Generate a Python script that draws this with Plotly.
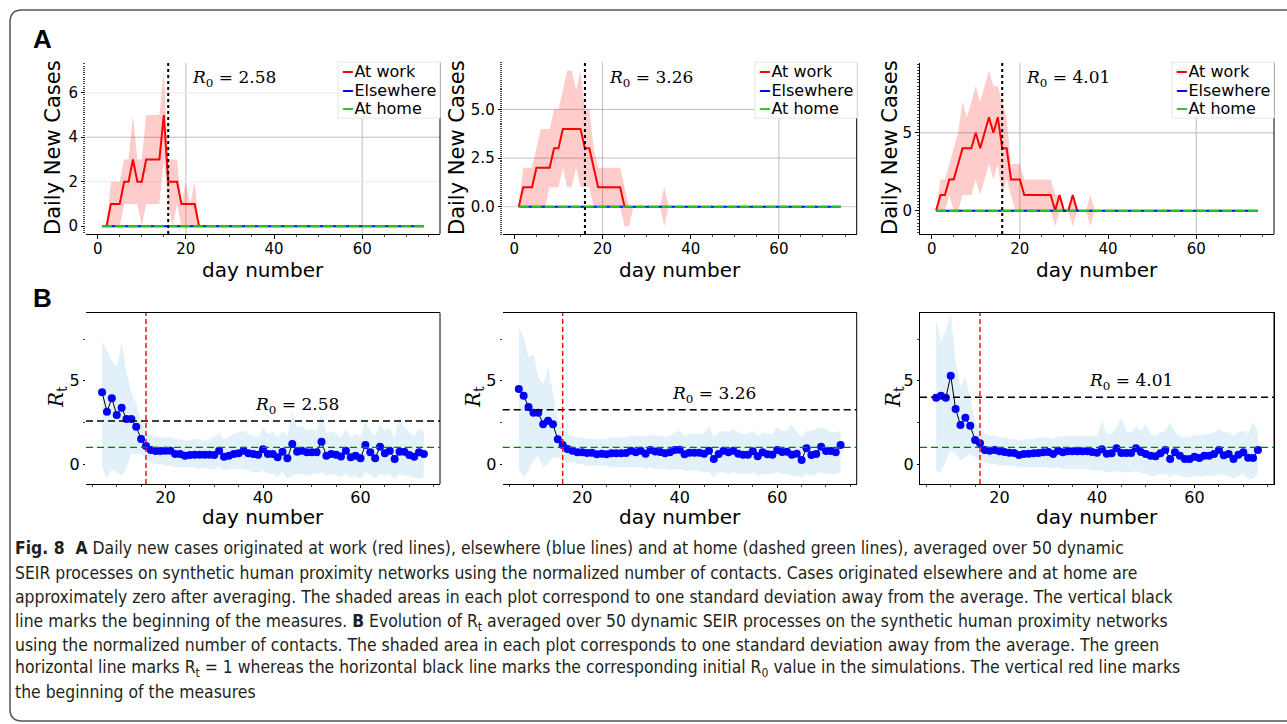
import plotly.graph_objects as go

W, H = 1287, 724

# ---------------- data ----------------
days_all = list(range(1, 75))
elsewhere = [0, 0, 0, 0, 0, 0, 0, 0, 0, 0, 0, 0, 0, 0, 0, 0, 0, 0, 0, 0, 0, 0, 0, 0, 0,
             0, 0, 0, 0, 0, 0, 0, 0, 0, 0, 0, 0, 0, 0, 0, 0, 0, 0, 0, 0, 0, 0, 0, 0, 0,
             0, 0, 0, 0, 0, 0, 0, 0, 0, 0, 0, 0, 0, 0, 0, 0, 0, 0, 0, 0, 0, 0, 0, 0]
at_home = [0, 0, 0, 0, 0, 0, 0, 0, 0, 0, 0, 0, 0, 0, 0, 0, 0, 0, 0, 0, 0, 0, 0, 0, 0,
           0, 0, 0, 0, 0, 0, 0, 0, 0, 0, 0, 0, 0, 0, 0, 0, 0, 0, 0, 0, 0, 0, 0, 0, 0,
           0, 0, 0, 0, 0, 0, 0, 0, 0, 0, 0, 0, 0, 0, 0, 0, 0, 0, 0, 0, 0, 0, 0, 0]

# Panel A1 (R0 = 2.58)
a1_days = list(range(2, 24))
a1_work = [0, 1, 1, 1, 2, 2, 3, 2, 2, 3, 3, 3, 3, 5, 2, 2, 2, 1, 1, 1, 1, 0]
a1_upper = [0, 2, 2, 2, 3, 3, 5, 3, 3, 5, 5, 5, 5, 7, 3, 3, 3, 1, 2, 1, 2, 0]
a1_lower = [0, 0, 0, 0, 1, 1, 1, 1, 0, 1, 1, 1, 1, 3, 1, 0, 1, 0, 0, 0, 0, 0]

# Panel A2 (R0 = 3.26)
a2_days = list(range(1, 26))
a2_work = [0, 1, 1, 1, 2, 2, 2, 2, 3, 3, 4, 4, 4, 4, 4, 3, 3, 2, 1, 1, 1, 1, 1, 1, 0]
a2_band_days = list(range(1, 36))
a2_upper = [0, 2, 2, 2, 3, 4, 4, 4, 5, 5, 6, 7, 7, 6, 7, 5, 5, 3, 2, 2,
            2, 2, 2, 2, 1, 0, 0, 0, 0, 0, 0, 0, 0, 1, 0]
a2_lower = [0, 0, 0, 0, 0, 0, 0, 1, 1, 1, 2, 1, 1, 2, 1, 1, 1, 0, 0, 0,
            0, 0, 0, 0, -1, -1, 0, 0, 0, 0, 0, 0, 0, -1, 0]

# Panel A3 (R0 = 4.01)
a3_days = list(range(1, 34))
a3_work = [0, 1, 1, 2, 2, 3, 4, 4, 4, 5, 4, 5, 6, 5, 6, 4, 4, 2, 2, 2,
           1, 1, 1, 1, 1, 1, 1, 0, 1, 0, 0, 1, 0]
a3_band_days = list(range(1, 38))
a3_upper = [0, 2, 2, 3, 4, 5, 7, 6, 7, 8, 7, 8, 9, 8, 8, 7, 6, 3, 3, 3,
            2, 2, 2, 2, 2, 2, 2, 1, 1, 0, 0, 1, 0, 0, 0, 1, 0]
a3_lower = [0, 0, 0, 1, 0, 0, 1, 1, 1, 2, 1, 2, 3, 2, 3, 1, 2, 1, 0, 0,
            0, 0, 0, 0, 0, 0, 0, -1, 0, 0, 0, -1, 0, 0, 0, -1, 0]

# Panel B (R_t), days 7..73
rt_days = list(range(7, 74))
b1_rt = [4.3, 3.14, 3.94, 2.94, 3.38, 2.7, 2.7, 2.24, 1.5, 1.08,
         0.84, 0.78, 0.78, 0.8, 0.8, 0.6, 0.6, 0.5, 0.54, 0.55,
         0.55, 0.55, 0.55, 0.54, 0.8, 0.44, 0.5, 0.6, 0.65, 0.8,
         0.65, 0.6, 0.55, 0.88, 0.6, 0.6, 0.4, 0.74, 0.34, 1.2,
         0.74, 0.8, 0.7, 0.7, 0.7, 1.34, 0.5, 0.6, 0.55, 0.45,
         0.8, 0.4, 0.5, 0.34, 1.14, 0.7, 0.34, 1.04, 0.64, 0.8,
         0.3, 0.74, 0.74, 0.54, 0.44, 0.7, 0.6]
b1_upper = [7.4, 6.8, 6.2, 5.8, 7.3, 5.5, 4.3, 3.6, 2.6, 2.0,
            1.7, 1.6, 1.6, 1.6, 1.6, 1.5, 1.5, 1.4, 1.4, 1.5,
            1.5, 1.4, 1.5, 1.6, 1.9, 1.5, 1.6, 1.8, 1.9, 2.0,
            1.8, 1.7, 1.6, 2.2, 1.8, 1.9, 1.6, 2.0, 1.7, 3.2,
            2.2, 2.3, 2.0, 2.1, 2.0, 3.0, 1.8, 2.0, 1.8, 1.6,
            2.1, 1.6, 1.8, 1.6, 2.6, 2.0, 1.7, 2.4, 2.0, 2.2,
            1.6, 2.9, 2.2, 1.9, 1.7, 2.1, 2.0]
b1_lower = [-0.2, -0.9, -0.3, -0.5, -0.7, -0.2, 0.6, 0.6, 0.6, 0.3,
            0.1, 0.0, 0.0, -0.1, -0.1, -0.2, -0.2, -0.2, -0.2, -0.2,
            -0.3, -0.2, -0.3, -0.3, -0.2, -0.4, -0.3, -0.3, -0.3, -0.3,
            -0.4, -0.5, -0.5, -0.4, -0.6, -0.6, -0.8, -0.5, -0.9, -0.7,
            -0.6, -0.6, -0.7, -0.6, -0.6, -0.5, -0.7, -0.6, -0.7, -0.8,
            -0.6, -0.8, -0.7, -0.9, -0.5, -0.7, -0.9, -0.6, -0.7, -0.6,
            -0.9, -0.6, -0.7, -0.7, -0.8, -0.9, -0.8]

b2_rt = [4.5, 4.1, 3.42, 3.08, 3.08, 2.38, 2.6, 2.38, 1.48, 1.14,
         0.9, 0.8, 0.7, 0.7, 0.66, 0.68, 0.58, 0.62, 0.58, 0.65,
         0.65, 0.65, 0.66, 0.8, 0.7, 0.8, 0.62, 0.84, 0.75, 0.72,
         0.64, 0.7, 0.84, 0.86, 0.58, 0.68, 0.68, 0.68, 0.62, 0.8,
         0.3, 0.6, 0.8, 0.7, 0.8, 0.62, 0.56, 0.56, 0.76, 0.46,
         0.7, 0.58, 0.56, 0.84, 0.72, 0.74, 0.56, 0.62, 0.24, 0.94,
         0.54, 0.6, 1.04, 0.78, 0.78, 0.7, 1.14]
b2_upper = [8.2, 7.6, 6.4, 6.6, 5.2, 4.8, 5.8, 4.2, 2.7, 2.2,
            1.8, 1.7, 1.6, 1.6, 1.5, 1.5, 1.5, 1.5, 1.5, 1.6,
            1.6, 1.6, 1.6, 1.7, 1.7, 1.7, 1.6, 1.8, 1.7, 1.7,
            1.6, 1.7, 1.9, 2.0, 1.7, 1.8, 1.8, 1.8, 1.8, 2.3,
            1.6, 1.9, 2.0, 1.9, 2.1, 1.9, 1.8, 1.8, 2.0, 1.7,
            1.9, 1.8, 1.8, 2.2, 2.0, 2.0, 2.4, 1.9, 1.6, 2.0,
            2.0, 2.1, 2.2, 2.1, 1.9, 1.9, 2.0]
b2_lower = [-0.3, -0.8, -0.4, 0.2, 0.5, -0.2, 0.0, 0.4, 0.4, 0.3,
            0.1, 0.1, 0.0, 0.0, -0.1, -0.1, -0.1, -0.1, -0.1, -0.2,
            -0.2, -0.2, -0.2, -0.2, -0.2, -0.2, -0.3, -0.2, -0.3, -0.3,
            -0.3, -0.4, -0.3, -0.3, -0.4, -0.4, -0.4, -0.4, -0.5, -0.5,
            -0.8, -0.5, -0.5, -0.6, -0.5, -0.6, -0.6, -0.6, -0.5, -0.7,
            -0.6, -0.6, -0.6, -0.5, -0.6, -0.6, -0.7, -0.7, -0.8, -0.6,
            -0.7, -0.6, -0.5, -0.6, -0.6, -0.6, -0.5]

b3_rt = [3.98, 4.1, 3.98, 5.3, 3.3, 2.34, 2.78, 2.3, 1.44, 1.24,
         0.84, 0.8, 0.84, 0.76, 0.72, 0.68, 0.66, 0.54, 0.6, 0.62,
         0.64, 0.66, 0.7, 0.72, 0.6, 0.8, 0.7, 0.76, 0.76, 0.76,
         0.76, 0.76, 0.72, 0.68, 0.88, 0.62, 0.64, 0.94, 0.66, 0.66,
         0.66, 0.94, 0.72, 0.6, 0.5, 0.46, 0.64, 0.84, 0.3, 0.7,
         0.5, 0.3, 0.3, 0.44, 0.36, 0.5, 0.5, 0.6, 0.84, 0.52,
         0.6, 0.3, 0.56, 0.7, 0.38, 0.36, 0.84]
b3_upper = [8.7, 7.4, 8.0, 9.1, 6.2, 4.6, 5.2, 4.0, 2.6, 2.2,
            1.8, 1.7, 1.7, 1.6, 1.6, 1.5, 1.5, 1.4, 1.5, 1.5,
            1.5, 1.6, 1.6, 1.6, 1.5, 1.7, 1.6, 1.7, 1.7, 1.7,
            1.7, 1.7, 1.7, 1.7, 2.6, 1.8, 1.8, 2.2, 2.8, 2.0,
            1.9, 2.3, 2.0, 2.4, 1.8, 1.7, 1.9, 2.0, 2.5, 1.9,
            1.7, 1.6, 1.6, 1.8, 1.7, 1.8, 1.8, 1.9, 2.1, 1.9,
            1.9, 1.7, 1.9, 2.0, 1.8, 2.5, 2.0]
b3_lower = [-0.4, -0.5, 0.2, 0.8, 0.6, 0.2, 0.4, 0.6, 0.4, 0.3,
            0.1, 0.0, 0.0, -0.1, -0.1, -0.1, -0.1, -0.2, -0.2, -0.2,
            -0.2, -0.2, -0.2, -0.2, -0.3, -0.2, -0.3, -0.3, -0.3, -0.3,
            -0.3, -0.3, -0.4, -0.4, -0.4, -0.5, -0.5, -0.4, -0.5, -0.5,
            -0.5, -0.4, -0.5, -0.6, -0.7, -0.7, -0.6, -0.6, -0.8, -0.6,
            -0.7, -0.8, -0.8, -0.7, -0.8, -0.7, -0.7, -0.7, -0.6, -0.7,
            -0.7, -0.9, -0.7, -0.6, -0.9, -0.9, -0.6]

r0_values = [2.58, 3.26, 4.01]
measures_day = 16
rt_threshold = 1
a_grid_x = [20, 60]
a_grid_y = [[(4, "#bdbdbd"), (2, "#ececec"), (6, "#ececec")],
            [(5, "#bdbdbd"), (2.5, "#bdbdbd"), (0, "#cfcfcf")],
            [(5, "#bdbdbd")]]
a_yticks = [[0, 2, 4, 6], [0, 2.5, 5], [0, 5]]
a_yticktext = [["0", "2", "4", "6"], ["0.0", "2.5", "5.0"], ["0", "5"]]
a_yrange = [[-0.35, 7.35], [-1.4, 7.4], [-1.5, 9.5]]
legend_labels = ["At work", "Elsewhere", "At home"]

# ---------------- helpers ----------------
def fx(x):
    return x / W


def fy(y):
    return 1 - y / H


SANS = "DejaVu Sans, Arial, sans-serif"
SERIF = "DejaVu Serif, Liberation Serif, serif"
X_DOMS = [(86, 440), (502.7, 856.7), (920, 1274)]
A_Y = (62.7, 234)
B_Y = (312.7, 484)

fig = go.Figure()
layout = dict(
    width=W, height=H, margin=dict(l=0, r=0, t=0, b=0),
    paper_bgcolor="white", plot_bgcolor="white", showlegend=False,
    font=dict(family=SANS, color="black"),
)

RED_FILL = "rgba(255,0,0,0.2)"
BLUE_FILL = "rgba(150,205,235,0.28)"
GREEN = "rgb(40,200,40)"
legend_colors = ["red", "blue", GREEN]

a_sets = [
    (a1_days, a1_work, a1_days, a1_upper, a1_lower),
    (a2_days, a2_work, a2_band_days, a2_upper, a2_lower),
    (a3_days, a3_work, a3_band_days, a3_upper, a3_lower),
]
b_sets = [(b1_rt, b1_upper, b1_lower), (b2_rt, b2_upper, b2_lower), (b3_rt, b3_upper, b3_lower)]

annotations = []
shapes = []

for i, (wd, wv, bd, up, lo) in enumerate(a_sets):
    n = i + 1
    xa, ya = ("x" if n == 1 else f"x{n}"), ("y" if n == 1 else f"y{n}")
    fig.add_trace(go.Scatter(x=bd + bd[::-1], y=up + lo[::-1], fill="toself", fillcolor=RED_FILL,
                             line=dict(width=0), mode="lines", hoverinfo="skip", xaxis=xa, yaxis=ya))
    fig.add_trace(go.Scatter(x=wd, y=wv, mode="lines", line=dict(color="red", width=2),
                             name="At work", xaxis=xa, yaxis=ya))
    fig.add_trace(go.Scatter(x=days_all, y=elsewhere, mode="lines", line=dict(color="blue", width=2),
                             name="Elsewhere", xaxis=xa, yaxis=ya))
    fig.add_trace(go.Scatter(x=days_all, y=at_home, mode="lines",
                             line=dict(color=GREEN, width=2, dash="10px,3px"),
                             name="At home", xaxis=xa, yaxis=ya))
    x0, x1 = X_DOMS[i]
    layout[f"xaxis{'' if n == 1 else n}"] = dict(
        domain=[fx(x0), fx(x1)], anchor=ya, range=[-2.65, 77.65],
        tickvals=[0, 20, 40, 60], ticks="outside", ticklen=4, tickcolor="black",
        showline=True, linecolor="black", linewidth=1, showgrid=False, zeroline=False,
        tickfont=dict(size=15, family=SANS), ticklabelstandoff=-3,
        minor=dict(ticks="outside", ticklen=2, dtick=5, tickcolor="#444"),
    )
    layout[f"yaxis{'' if n == 1 else n}"] = dict(
        domain=[fy(A_Y[1]), fy(A_Y[0])], anchor=xa, range=a_yrange[i],
        tickvals=a_yticks[i], ticktext=a_yticktext[i], ticks="outside", ticklen=4,
        tickcolor="black", showline=(n == 3), linecolor="black", linewidth=1,
        showgrid=False, zeroline=False, tickfont=dict(size=15, family=SANS),
        minor=dict(ticks="outside", ticklen=2, nticks=20, tickcolor="#444"),
    )
    for gx in a_grid_x:
        shapes.append(dict(type="line", xref=xa, yref=f"{ya} domain", x0=gx, x1=gx, y0=0, y1=1,
                           line=dict(color="#bdbdbd", width=1), layer="below"))
    for gy, col in a_grid_y[i]:
        shapes.append(dict(type="line", xref=f"{xa} domain", yref=ya, x0=0, x1=1, y0=gy, y1=gy,
                           line=dict(color=col, width=1), layer="below"))
    shapes.append(dict(type="line", xref=f"{xa} domain", yref=f"{ya} domain", x0=1, x1=1, y0=0, y1=1,
                       line=dict(color="black", width=1)))
    shapes.append(dict(type="line", xref=xa, yref=f"{ya} domain", x0=measures_day, x1=measures_day,
                       y0=0, y1=1, line=dict(color="black", width=2, dash="dot")))
    annotations.append(dict(xref="paper", yref="paper", x=fx(x0 + 104), y=fy(78), xanchor="left",
                            yanchor="middle", showarrow=False,
                            text=f"<i>R</i><sub>0</sub> = {r0_values[i]:.2f}",
                            font=dict(family=SERIF, size=17, color="black")))
    lx = [338, 755, 1172][i]
    shapes.append(dict(type="rect", xref="paper", yref="paper", x0=fx(lx), x1=fx(lx + 102),
                       y0=fy(118), y1=fy(62), fillcolor="white",
                       line=dict(color="#e4e4e4", width=1), layer="above"))
    for k, (lab, col) in enumerate(zip(legend_labels, legend_colors)):
        annotations.append(dict(
            xref="paper", yref="paper", x=fx(lx + 1), y=fy(72 + 18.3 * k), xanchor="left",
            yanchor="middle", showarrow=False,
            text=f"<span style='color:{col}'><b>−</b></span>{lab}",
            font=dict(family=SANS, size=16, color="black"),
        ))
    annotations.append(dict(xref="paper", yref="paper", x=fx((x0 + x1) / 2), y=fy(270),
                            xanchor="center", yanchor="middle", showarrow=False, text="day number",
                            font=dict(family=SANS, size=20)))
    annotations.append(dict(xref="paper", yref="paper", x=fx([53, 457, 890][i]), y=fy(148),
                            xanchor="center", yanchor="middle", showarrow=False, textangle=-90,
                            text="Daily New Cases", font=dict(family=SANS, size=21)))

for i, (rt, up, lo) in enumerate(b_sets):
    n = i + 4
    xa, ya = f"x{n}", f"y{n}"
    fig.add_trace(go.Scatter(x=rt_days + rt_days[::-1], y=up + lo[::-1], fill="toself",
                             fillcolor=BLUE_FILL, line=dict(width=0), mode="lines",
                             hoverinfo="skip", xaxis=xa, yaxis=ya))
    fig.add_trace(go.Scatter(x=rt_days, y=rt, mode="lines+markers",
                             line=dict(color="black", width=1),
                             marker=dict(color="blue", size=8, line=dict(width=0)),
                             xaxis=xa, yaxis=ya))
    x0, x1 = X_DOMS[i]
    layout[f"xaxis{n}"] = dict(
        domain=[fx(x0), fx(x1)], anchor=ya, range=[3.7, 76.3],
        tickvals=[20, 40, 60], ticks="outside", ticklen=3, tickcolor="black",
        showline=True, mirror=True, linecolor="black", linewidth=1, showgrid=False,
        zeroline=False, tickfont=dict(size=16, family=SANS), ticklabelstandoff=-4,
        minor=dict(ticks="outside", ticklen=2, dtick=5, tickcolor="#444"),
    )
    layout[f"yaxis{n}"] = dict(
        domain=[fy(B_Y[1]), fy(B_Y[0])], anchor=xa, range=[-1.2, 9.08],
        tickvals=[0, 5], ticks="outside", ticklen=2, tickcolor="black",
        showline=(n == 6), mirror=(n == 6), linecolor="black", linewidth=1,
        showgrid=False, zeroline=False, tickfont=dict(size=16, family=SANS),
        minor=dict(ticks="outside", ticklen=2, dtick=2.5, tickcolor="#444"),
    )
    shapes.append(dict(type="line", xref=f"{xa} domain", yref=f"{ya} domain", x0=1, x1=1, y0=0, y1=1,
                       line=dict(color="black", width=1)))
    shapes.append(dict(type="line", xref=f"{xa} domain", yref=ya, x0=0, x1=1,
                       y0=r0_values[i], y1=r0_values[i],
                       line=dict(color="black", width=1.6, dash="7px,4px")))
    shapes.append(dict(type="line", xref=f"{xa} domain", yref=ya, x0=0, x1=1,
                       y0=rt_threshold, y1=rt_threshold,
                       line=dict(color="green", width=1.4, dash="7px,4px")))
    shapes.append(dict(type="line", xref=xa, yref=f"{ya} domain", x0=measures_day, x1=measures_day,
                       y0=0, y1=1, line=dict(color="red", width=1.4, dash="5px,3px")))
    annotations.append(dict(xref=xa, yref=ya, x=47, y=r0_values[i], xanchor="center",
                            yanchor="bottom", yshift=2, showarrow=False,
                            text=f"<i>R</i><sub>0</sub> = {r0_values[i]:.2f}",
                            font=dict(family=SERIF, size=17, color="black")))
    annotations.append(dict(xref="paper", yref="paper", x=fx((x0 + x1) / 2), y=fy(517),
                            xanchor="center", yanchor="middle", showarrow=False, text="day number",
                            font=dict(family=SANS, size=20)))
    annotations.append(dict(xref="paper", yref="paper", x=fx([57, 474, 894][i]), y=fy(397),
                            xanchor="center", yanchor="middle", showarrow=False, textangle=-90,
                            text="<i>R</i><sub>t</sub>", font=dict(family=SERIF, size=20)))

for letter, yy in (("A", 39), ("B", 298)):
    annotations.append(dict(xref="paper", yref="paper", x=fx(31), y=fy(yy), xanchor="left",
                            yanchor="middle", showarrow=False, text=f"<b>{letter}</b>",
                            font=dict(family="Liberation Sans, Arial, sans-serif", size=26)))

caption_lines = [
    "<b>Fig. 8  A</b> Daily new cases originated at work (red lines), elsewhere (blue lines) and at home (dashed green lines), averaged over 50 dynamic",
    "SEIR processes on synthetic human proximity networks using the normalized number of contacts. Cases originated elsewhere and at home are",
    "approximately zero after averaging. The shaded areas in each plot correspond to one standard deviation away from the average. The vertical black",
    "line marks the beginning of the measures. <b>B</b> Evolution of R<sub>t</sub> averaged over 50 dynamic SEIR processes on the synthetic human proximity networks",
    "using the normalized number of contacts. The shaded area in each plot corresponds to one standard deviation away from the average. The green",
    "horizontal line marks R<sub>t</sub> = 1 whereas the horizontal black line marks the corresponding initial R<sub>0</sub> value in the simulations. The vertical red line marks",
    "the beginning of the measures",
]
caption_y = [548, 573, 597, 622, 645, 668, 692]
CAP_FONT = "DejaVu Sans Condensed, Liberation Sans Narrow, Roboto, sans-serif"
for t, yy in zip(caption_lines, caption_y):
    annotations.append(dict(xref="paper", yref="paper", x=fx(13), y=fy(yy), xanchor="left",
                            yanchor="middle", showarrow=False, text=t, align="left",
                            font=dict(family=CAP_FONT, size=17.4, color="#231f20")))

rx, ry = 12 / W, 12 / H
x0p, ytp, ybp = fx(10), fy(10), fy(721)
path = (f"M 1.05,{ybp} L {x0p + rx},{ybp} Q {x0p},{ybp} {x0p},{ybp + ry} "
        f"L {x0p},{ytp - ry} Q {x0p},{ytp} {x0p + rx},{ytp} L 1.05,{ytp}")
shapes.append(dict(type="path", xref="paper", yref="paper", path=path,
                   line=dict(color="#555555", width=1.5)))

layout["annotations"] = annotations
layout["shapes"] = shapes
fig.update_layout(**layout)
fig.write_html(
    "out.html",
    config={"displayModeBar": False},
    post_script="document.body.style.margin='0px';document.body.style.overflow='hidden';",
)
